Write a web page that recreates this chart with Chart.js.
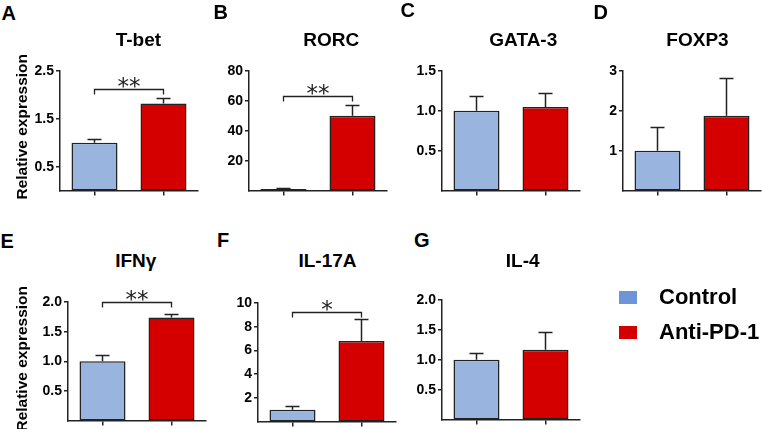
<!DOCTYPE html>
<html>
<head>
<meta charset="utf-8">
<script src="https://cdn.jsdelivr.net/npm/chart.js@4"></script>
<style>
  body { margin: 0; width: 762px; height: 429px; overflow: hidden; background: #fff; position: relative;
         font-family: "Liberation Sans", Arial, sans-serif; }
  canvas { position: absolute; }
  .txt { position: absolute; font-weight: bold; line-height: 1; white-space: nowrap; color: #000; }
</style>
</head>
<body>
<script>
// Data
const genes = ['T-bet', 'RORC', 'GATA-3', 'FOXP3', 'IFNγ', 'IL-17A', 'IL-4'];
const panelLetters = ['A', 'B', 'C', 'D', 'E', 'F', 'G'];
const groups = ['Control', 'Anti-PD-1'];
const controlMean = [1.0, 1.0, 1.0, 1.0, 1.0, 1.0, 1.0];
const controlErr = [0.07, 0.6, 0.19, 0.6, 0.11, 0.3, 0.11];
const antiMean = [1.82, 50, 1.05, 1.88, 1.74, 6.8, 1.17];
const antiErr = [0.12, 7.5, 0.18, 0.94, 0.05, 1.85, 0.30];
const yMax = [2.5, 80, 1.5, 3, 2.0, 10, 2.0];
const yTicks = [
    ['0.5', '1.5', '2.5'],
    ['20', '40', '60', '80'],
    ['0.5', '1.0', '1.5'],
    ['1', '2', '3'],
    ['0.5', '1.0', '1.5', '2.0'],
    ['2', '4', '6', '8', '10'],
    ['0.5', '1.0', '1.5', '2.0']
];
const sigStars = ['**', '**', '', '', '**', '*', ''];
const sigLevel = [2.13, 63, null, null, 2.0, 9.2, null];

// Colours
const controlColor = '#9ab4e0';
const antiColor = '#d40000';
const legendBlue = '#6f95d9';
const lineColor = '#222';

// Where each panel sits on the page
const panelBox = [
    { axisX: 60,  top: 70.5, bottom: 192,   titleX: 138.4, titleTop: 29.6,  letterX: 1.5,  letterTop: 3 },
    { axisX: 249, top: 70.5, bottom: 192,   titleX: 331.3, titleTop: 29.6,  letterX: 213.5, letterTop: 1.5 },
    { axisX: 442, top: 70.5, bottom: 192,   titleX: 523.3, titleTop: 29.6,  letterX: 400.5, letterTop: 0 },
    { axisX: 623, top: 70.5, bottom: 192,   titleX: 697.5, titleTop: 29.6,  letterX: 593.5, letterTop: 1.5 },
    { axisX: 68,  top: 302,  bottom: 423.3, titleX: 135.8, titleTop: 251,   letterX: 0.5,  letterTop: 231.4 },
    { axisX: 258, top: 302.5, bottom: 423.3, titleX: 327.5, titleTop: 251,  letterX: 217,  letterTop: 229.8 },
    { axisX: 442, top: 299.5, bottom: 421.7, titleX: 522.7, titleTop: 251,  letterX: 414,  letterTop: 230.4 }
];

const Y_W = 44;      // width of the y axis box
const PAD_TOP = 30;  // room above the plot for brackets and stars
const X_H = 8;       // height of the x axis box (tick marks only)
const PLOT_W = 138;  // plot width

Chart.defaults.font.family = '"Liberation Sans", Arial, sans-serif';
Chart.defaults.color = '#000';

function addText(text, left, top, size, extraStyle) {
    const div = document.createElement('div');
    div.className = 'txt';
    div.textContent = text;
    div.style.left = left + 'px';
    div.style.top = top + 'px';
    div.style.fontSize = size + 'px';
    if (extraStyle) Object.assign(div.style, extraStyle);
    document.body.appendChild(div);
    return div;
}

// error bars, significance brackets and stars
const marksPlugin = {
    id: 'marks',
    afterDatasetsDraw(chart, args, opts) {
        const i = opts.panel;
        const ctx = chart.ctx;
        const yScale = chart.scales.y;
        const bars = chart.getDatasetMeta(0).data;
        const means = [controlMean[i], antiMean[i]];
        const errs = [controlErr[i], antiErr[i]];
        ctx.save();
        ctx.strokeStyle = lineColor;
        ctx.lineWidth = 1.5;
        bars.forEach((bar, k) => {
            const yTop = Math.round(yScale.getPixelForValue(means[k] + errs[k])) + 0.5;
            ctx.beginPath();
            ctx.moveTo(bar.x, bar.y);
            ctx.lineTo(bar.x, yTop);
            ctx.moveTo(bar.x - 7, yTop);
            ctx.lineTo(bar.x + 7, yTop);
            ctx.stroke();
        });
        if (sigLevel[i] != null) {
            const y = Math.round(yScale.getPixelForValue(sigLevel[i])) + 0.5;
            const x1 = bars[0].x, x2 = bars[1].x;
            ctx.lineWidth = 1.3;
            ctx.beginPath();
            ctx.moveTo(x1, y + 5);
            ctx.lineTo(x1, y);
            ctx.lineTo(x2, y);
            ctx.lineTo(x2, y + 5);
            ctx.stroke();
            ctx.fillStyle = '#222';
            ctx.font = '23px "DejaVu Sans"';
            ctx.textAlign = 'center';
            ctx.textBaseline = 'alphabetic';
            ctx.fillText(sigStars[i], (x1 + x2) / 2, y + 4);
        }
        ctx.restore();
    }
};

function drawPanel(i) {
    const box = panelBox[i];
    const h = Math.round(box.bottom - box.top);
    const canvas = document.createElement('canvas');
    canvas.width = Y_W + PLOT_W + 2;
    canvas.height = PAD_TOP + h + X_H;
    canvas.style.left = Math.round(box.axisX - Y_W) + 'px';
    canvas.style.top = Math.round(box.top - PAD_TOP) + 'px';
    document.body.appendChild(canvas);

    addText(panelLetters[i], box.letterX, box.letterTop, 20);
    addText(genes[i], box.titleX - 60, box.titleTop, 19, { width: '120px', textAlign: 'center' });

    new Chart(canvas, {
        type: 'bar',
        data: {
            labels: groups,
            datasets: [{
                data: [controlMean[i], antiMean[i]],
                backgroundColor: [controlColor, antiColor],
                borderColor: lineColor,
                borderWidth: 1.5,
                borderSkipped: false,
                barPercentage: 0.667,
                categoryPercentage: 1
            }]
        },
        options: {
            responsive: false,
            animation: false,
            devicePixelRatio: 1,
            layout: { padding: { top: PAD_TOP, right: 2, left: 0, bottom: 0 } },
            plugins: {
                legend: { display: false },
                tooltip: { enabled: false },
                marks: { panel: i }
            },
            scales: {
                x: {
                    type: 'category',
                    offset: true,
                    grid: { offset: false, drawOnChartArea: false, drawTicks: true, tickLength: 5, color: lineColor, lineWidth: 1.5 },
                    border: { color: lineColor, width: 1.5 },
                    ticks: { display: false },
                    afterFit: function(scale) { scale.height = X_H; }
                },
                y: {
                    min: 0,
                    max: yMax[i],
                    grid: { drawOnChartArea: false, drawTicks: true, tickLength: 4, color: lineColor, lineWidth: 1.5 },
                    border: { color: lineColor, width: 1.5 },
                    ticks: {
                        padding: 2,
                        font: { size: 14, weight: 'bold' },
                        color: '#000',
                        callback: function(value, index) {
                            return yTicks[i][index];
                        }
                    },
                    afterBuildTicks: function(scale) {
                        scale.ticks = yTicks[i].map(t => ({ value: parseFloat(t) }));
                    },
                    afterFit: function(scale) { scale.width = Y_W; }
                }
            }
        },
        plugins: [marksPlugin]
    });
}

for (let i = 0; i < genes.length; i++) {
    drawPanel(i);
}

// y axis titles for the two rows
[126.7, 359].forEach(cy => {
    addText('Relative expression', 21.7 - 80, cy - 7.8, 15.5,
        { width: '160px', textAlign: 'center', transform: 'rotate(-90deg)' });
});

// legend
const legendItems = [
    { label: groups[0], color: legendBlue, top: 291 },
    { label: groups[1], color: antiColor, top: 326 }
];
legendItems.forEach(item => {
    const sw = document.createElement('div');
    sw.style.position = 'absolute';
    sw.style.left = '619px';
    sw.style.top = item.top + 'px';
    sw.style.width = '18px';
    sw.style.height = '13px';
    sw.style.background = item.color;
    document.body.appendChild(sw);
    addText(item.label, 659, item.top - 4.6, 22);
});
</script>
</body>
</html>
